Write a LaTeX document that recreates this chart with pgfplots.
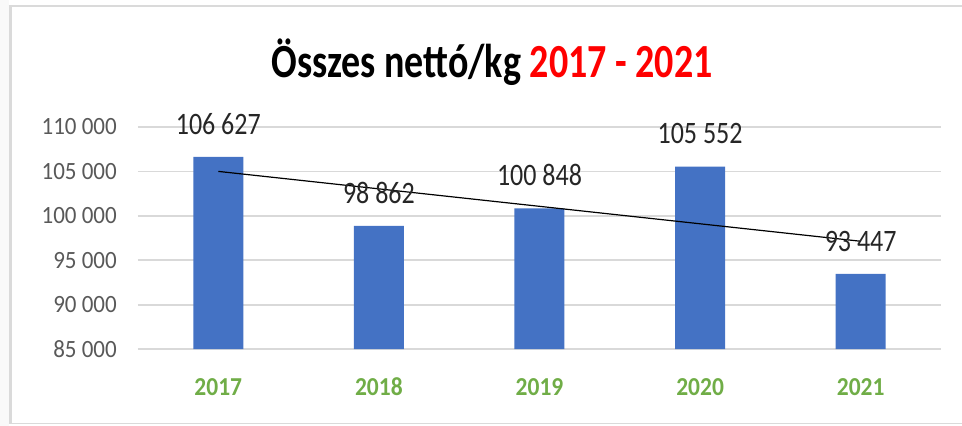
\documentclass[border=0pt]{standalone}
\usepackage{fontspec}
\setmainfont{Carlito}
\usepackage{pgfplots}
\pgfplotsset{compat=1.18}
\definecolor{barblue}{HTML}{4472C4}
\definecolor{xgreen}{HTML}{70AD47}
\definecolor{gridgray}{HTML}{D9D9D9}
\definecolor{ticktext}{HTML}{595959}
\definecolor{labeltext}{HTML}{262626}
\definecolor{framegray}{HTML}{DADADA}
\definecolor{titlered}{HTML}{FF0000}
\newcommand{\ys}[2]{\scalebox{1}[#1]{#2}}
\begin{document}
\begin{tikzpicture}[x=1pt,y=1pt]
\begin{axis}[
  width=803pt, height=222pt, scale only axis,
  xmin=-0.5, xmax=4.5, ymin=85000, ymax=110000,
  ytick={85000,90000,95000,100000,105000,110000},
  yticklabels={\ys{1.08}{85 000},\ys{1.08}{90 000},\ys{1.08}{95 000},\ys{1.08}{100 000},\ys{1.08}{105 000},\ys{1.08}{110 000}},
  scaled y ticks=false,
  xtick={0,1,2,3,4},
  xticklabels={\ys{1.1}{2017},\ys{1.1}{2018},\ys{1.1}{2019},\ys{1.1}{2020},\ys{1.1}{2021}},
  axis line style={draw=none},
  tick style={draw=none},
  ymajorgrids,
  grid style={gridgray, line width=1.8pt},
  yticklabel style={font=\fontsize{23}{23}\selectfont, text=ticktext, anchor=east, inner sep=0pt, xshift=-21pt},
  xticklabel style={font=\bfseries\fontsize{23.5}{23.5}\selectfont, text=xgreen, anchor=center, inner sep=0pt, yshift=-38pt},
]
\coordinate (O) at (axis cs:-0.5,85000);
\addplot[ybar, bar width=50pt, fill=barblue, draw=none,
  point meta=explicit symbolic,
  nodes near coords={\ys{1.2}{\pgfplotspointmeta}},
  nodes near coords style={font=\fontsize{26}{26}\selectfont, text=labeltext, anchor=center, inner sep=0pt, yshift=33pt}]
  coordinates {(0,106627) [106 627] (1,98862) [98 862] (2,100848) [100 848] (3,105552) [105 552] (4,93447) [93 447]};
\addplot[black, line width=1.2pt, no marks] coordinates {(0,105001.2) (4,97133.2)};
\end{axis}
\pgfresetboundingbox
\path[use as bounding box] ([shift={(-138,-77)}]O) rectangle ([shift={(824,349)}]O);
\begin{scope}[shift={([shift={(-138,-77)}]O)}]
\fill[gray!5] (0,0) rectangle (9,426);
\draw[framegray, line width=3pt] (10.5,2.5) -- (10.5,420);
\draw[framegray, line width=2.5pt] (9,420) -- (962,420);
\draw[framegray, line width=1.5pt] (9,2.5) -- (962,2.5);
\node[anchor=base, font=\bfseries\fontsize{38}{38}\selectfont, inner sep=0pt] at (492,348)
  {\ys{1.25}{Összes nettó/kg \textcolor{titlered}{2017 - 2021}}};
\end{scope}
\end{tikzpicture}
\end{document}
